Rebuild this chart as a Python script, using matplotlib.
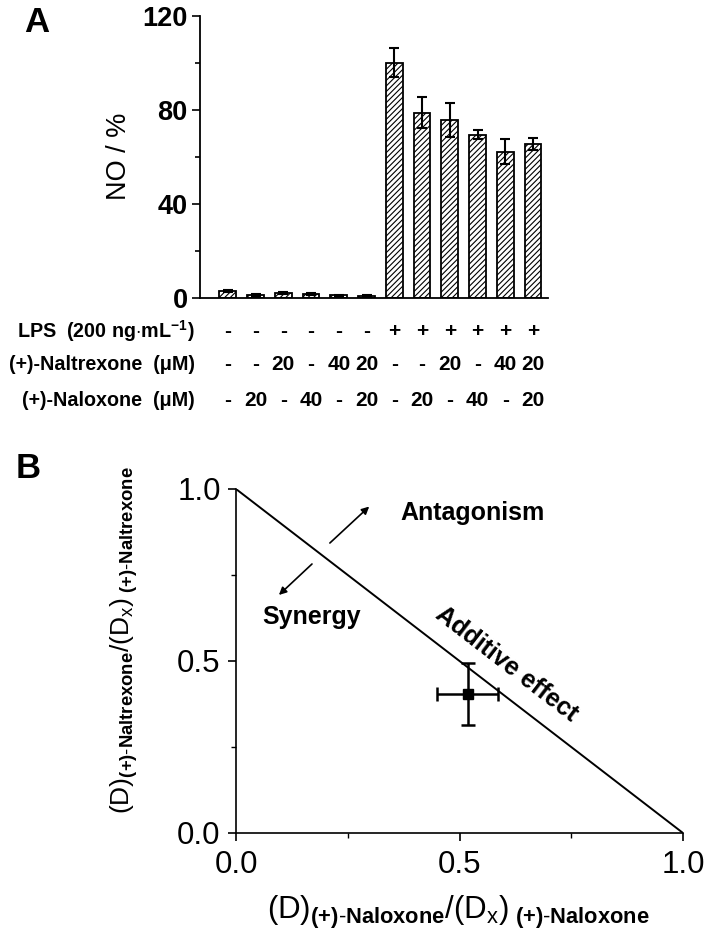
import matplotlib
matplotlib.use("Agg")
import matplotlib.pyplot as plt
import matplotlib.transforms as mtransforms
from matplotlib.ticker import MultipleLocator

# ---------------- data ----------------
lps_row = ['-', '-', '-', '-', '-', '-', '+', '+', '+', '+', '+', '+']
naltrexone_row = ['-', '-', '20', '-', '40', '20', '-', '-', '20', '-', '40', '20']
naloxone_row = ['-', '20', '-', '40', '-', '20', '-', '20', '-', '40', '-', '20']
no_pct = [2.7, 1.1, 2.0, 1.4, 0.9, 0.7, 100.0, 78.6, 75.6, 69.4, 62.1, 65.4]
no_err = [0.5, 0.3, 0.5, 0.4, 0.3, 0.3, 6.2, 6.6, 7.4, 2.1, 5.2, 2.6]
row_labels = [r'LPS  (200 ng$\mathbf{\cdot}$mL$^{\mathbf{-1}}$)',
              '(+)-Naltrexone  (μM)',
              '(+)-Naloxone  (μM)']
a_yticks = [0, 40, 80, 120]

iso_x = [0.0, 1.0]
iso_y = [1.0, 0.0]
pt_x = [0.518]
pt_y = [0.404]
pt_xerr = [0.069]
pt_yerr = [0.091]
b_ticks = [0.0, 0.5, 1.0]

plt.rcParams['font.family'] = ['Liberation Sans', 'DejaVu Sans']
plt.rcParams['mathtext.fontset'] = 'custom'
plt.rcParams['mathtext.rm'] = 'Liberation Sans'
plt.rcParams['mathtext.bf'] = 'Liberation Sans:bold'
plt.rcParams['mathtext.it'] = 'Liberation Sans:italic'
plt.rcParams['mathtext.sf'] = 'Liberation Sans:bold'
plt.rcParams['hatch.linewidth'] = 0.8

fig = plt.figure(figsize=(7.09, 9.40), dpi=100)

# ---------------- panel A ----------------
axA = fig.add_axes([200/709, 1-297.5/940, 348/709, (297.5-15.7)/940])
xpos = list(range(len(no_pct)))
axA.bar(xpos, no_pct, width=0.6, color='white', edgecolor='black',
        linewidth=1.3, hatch='//////', zorder=2)
axA.errorbar(xpos, no_pct, yerr=no_err, fmt='none', ecolor='black',
             elinewidth=1.5, capsize=3.8, capthick=1.5, zorder=3)
axA.set_xlim(-1.0, 11.54)
axA.set_ylim(0, 120)
axA.set_yticks(a_yticks)
axA.yaxis.set_minor_locator(MultipleLocator(20))
axA.set_xticks([])
for s in ['top', 'right']:
    axA.spines[s].set_visible(False)
for s in ['left', 'bottom']:
    axA.spines[s].set_linewidth(1.3)
axA.tick_params(axis='y', which='major', direction='out', length=6, width=1.2,
                labelsize=19.5, pad=3)
axA.tick_params(axis='y', which='minor', direction='out', length=3.5, width=1.2)
for lab in axA.get_yticklabels():
    lab.set_fontweight('bold')
axA.set_ylabel('NO / %', fontsize=19.5, labelpad=7)

trans = mtransforms.blended_transform_factory(axA.transData, fig.transFigure)
row_y = [1-331.5/940, 1-364/940, 1-400/940]
for ry, rlab, vals in zip(row_y, row_labels, [lps_row, naltrexone_row, naloxone_row]):
    fig.text(195/709, ry, rlab, ha='right', va='center', fontsize=14.2,
             fontweight='bold')
    for xi, v in zip(xpos, vals):
        fig.text(xi, ry, v, transform=trans, ha='center', va='center',
                 fontsize=15, fontweight='bold')

fig.text(24/709, 1-32/940, 'A', fontsize=25, fontweight='bold',
         ha='left', va='baseline')

# ---------------- panel B ----------------
axB = fig.add_axes([236/709, 1-833/940, 447/709, 344/940])
axB.plot(iso_x, iso_y, color='black', lw=1.4)
axB.errorbar(pt_x, pt_y, xerr=pt_xerr, yerr=pt_yerr, fmt='s', color='black',
             ms=6.5, elinewidth=1.8, capsize=5, capthick=1.8)
axB.set_xlim(0, 1)
axB.set_ylim(0, 1)
axB.set_xticks(b_ticks)
axB.set_yticks(b_ticks)
axB.set_xticklabels([f'{t:.1f}' for t in b_ticks])
axB.set_yticklabels([f'{t:.1f}' for t in b_ticks])
axB.xaxis.set_minor_locator(MultipleLocator(0.25))
axB.yaxis.set_minor_locator(MultipleLocator(0.25))
for s in ['top', 'right']:
    axB.spines[s].set_visible(False)
for s in ['left', 'bottom']:
    axB.spines[s].set_linewidth(1.2)
axB.tick_params(axis='both', which='major', direction='out', length=6, width=1.2,
                labelsize=22.5)
axB.tick_params(axis='y', which='major', pad=5)
axB.tick_params(axis='x', which='major', pad=6)
axB.tick_params(axis='both', which='minor', direction='out', length=3.5, width=1.0)

axB.text(0.528, 0.93, 'Antagonism', fontsize=18, fontweight='bold',
         ha='center', va='center', transform=axB.transData)
axB.text(0.17, 0.628, 'Synergy', fontsize=18, fontweight='bold',
         ha='center', va='center')
axB.text(0.605, 0.49, 'Additive effect', fontsize=18, fontweight='bold',
         ha='center', va='center', rotation=-37.6, rotation_mode='anchor')
axB.annotate('', xy=(0.298, 0.949), xytext=(0.210, 0.843),
             arrowprops=dict(arrowstyle='-|>', color='black', lw=1.2,
                             mutation_scale=11, shrinkA=0, shrinkB=0))
axB.annotate('', xy=(0.096, 0.692), xytext=(0.170, 0.782),
             arrowprops=dict(arrowstyle='-|>', color='black', lw=1.2,
                             mutation_scale=11, shrinkA=0, shrinkB=0))

xlab = (r'$\mathrm{(D)}_{\mathsf{(+)\text{-}Naloxone}}\mathrm{/(D}_{\mathrm{x}}\mathrm{)}'
        r'_{\mathsf{\ (+)\text{-}Naloxone}}$')
ylab = (r'$\mathrm{(D)}_{\mathsf{(+)\text{-}Naltrexone}}\mathrm{/(D}_{\mathrm{x}}\mathrm{)}'
        r'_{\mathsf{\ (+)\text{-}Naltrexone}}$')
fig.text(458/709, 1-912/940, xlab, fontsize=22.5, ha='center', va='center')
fig.text(124/709, 1-640/940, ylab, fontsize=19, ha='center', va='center',
         rotation=90)

fig.text(16/709, 1-478/940, 'B', fontsize=25, fontweight='bold',
         ha='left', va='baseline')

fig.savefig('out.png', dpi=100)
